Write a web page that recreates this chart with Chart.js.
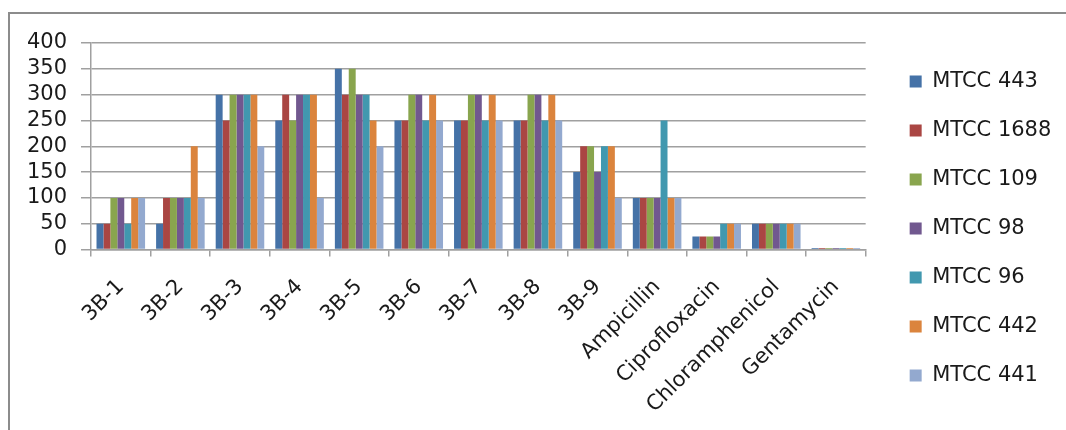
<!DOCTYPE html>
<html>
<head>
<meta charset="utf-8">
<title>Antibacterial activity by strain</title>
<script src="https://cdn.jsdelivr.net/npm/chart.js@4.4.1/dist/chart.umd.min.js"></script>
<style>
  html, body { margin: 0; padding: 0; background: #ffffff; overflow: hidden; }
  #frame {
    position: absolute; left: 8px; top: 12px; width: 1200px; height: 600px;
    border: 2px solid #8c8c8c; box-sizing: border-box;
  }
  #wrap { position: absolute; left: 0; top: 0; width: 1066px; height: 430px; }
</style>
</head>
<body>
<div id="frame"></div>
<div id="wrap"><canvas id="chart" width="1066" height="430"></canvas></div>
<script>
// Extracts / controls tested
const categories = ['3B-1', '3B-2', '3B-3', '3B-4', '3B-5', '3B-6', '3B-7', '3B-8', '3B-9',
  'Ampicillin', 'Ciprofloxacin', 'Chloramphenicol', 'Gentamycin'];

// One array per test strain, one value per category
const mtcc443  = [50, 50, 300, 250, 350, 250, 250, 250, 150, 100, 25, 50, 3];
const mtcc1688 = [50, 100, 250, 300, 300, 250, 250, 250, 200, 100, 25, 50, 3];
const mtcc109  = [100, 100, 300, 250, 350, 300, 300, 300, 200, 100, 25, 50, 3];
const mtcc98   = [100, 100, 300, 300, 300, 300, 300, 300, 150, 100, 25, 50, 3];
const mtcc96   = [50, 100, 300, 300, 300, 250, 250, 250, 200, 250, 50, 50, 3];
const mtcc442  = [100, 200, 300, 300, 250, 300, 300, 300, 200, 100, 50, 50, 3];
const mtcc441  = [100, 100, 200, 100, 200, 250, 250, 250, 100, 100, 50, 50, 3];

const seriesNames = ['MTCC 443', 'MTCC 1688', 'MTCC 109', 'MTCC 98', 'MTCC 96', 'MTCC 442', 'MTCC 441'];
const seriesValues = [mtcc443, mtcc1688, mtcc109, mtcc98, mtcc96, mtcc442, mtcc441];
const seriesColors = ['#4572A7', '#AA4643', '#89A54E', '#71588F', '#4198AF', '#DB843D', '#93A9CF'];

// Y axis: 0 to 400 in steps of 50
const yMin = 0;
const yMax = 400;
const yStep = 50;

Chart.defaults.font.family = "'DejaVu Sans', sans-serif";
Chart.defaults.color = '#1a1a1a';

const datasets = seriesNames.map((name, i) => ({
  label: name,
  data: seriesValues[i],
  backgroundColor: seriesColors[i],
  borderWidth: 0,
  categoryPercentage: 0.815,
  barPercentage: 1.0
}));

const gridColor = '#a0a0a0';

new Chart(document.getElementById('chart'), {
  type: 'bar',
  data: { labels: categories, datasets },
  options: {
    responsive: false,
    devicePixelRatio: 1,
    animation: false,
    layout: { padding: { top: 43, left: 0, right: 8, bottom: 0 } },
    plugins: {
      tooltip: { enabled: false },
      legend: {
        position: 'right',
        align: 'start',
        labels: {
          boxWidth: 12,
          boxHeight: 12,
          padding: 28,
          font: { size: 21 },
          color: '#1a1a1a'
        }
      }
    },
    scales: {
      x: {
        offset: true,
        grid: {
          offset: true,
          drawOnChartArea: false,
          tickLength: 7,
          color: gridColor,
          lineWidth: 1.5
        },
        border: { display: true, color: gridColor, width: 1.5 },
        ticks: {
          minRotation: 45,
          maxRotation: 45,
          padding: 18,
          autoSkip: false,
          font: { size: 21 },
          color: '#1a1a1a'
        },
        afterFit(scale) { scale.height = 180.5; }
      },
      y: {
        min: yMin,
        max: yMax,
        ticks: {
          stepSize: yStep,
          autoSkip: false,
          padding: 14,
          font: { size: 21 },
          color: '#1a1a1a'
        },
        grid: { color: gridColor, lineWidth: 1.5, tickLength: 10 },
        border: { display: true, color: gridColor, width: 1.5 },
        afterFit(scale) { scale.width = 91; }
      },
      // empty spacer column between the plot and the legend
      spacer: {
        type: 'linear',
        position: 'right',
        display: true,
        grid: { display: false },
        border: { display: false },
        ticks: { display: false },
        afterFit(scale) { scale.width = 16; }
      }
    }
  }
});
</script>
</body>
</html>
